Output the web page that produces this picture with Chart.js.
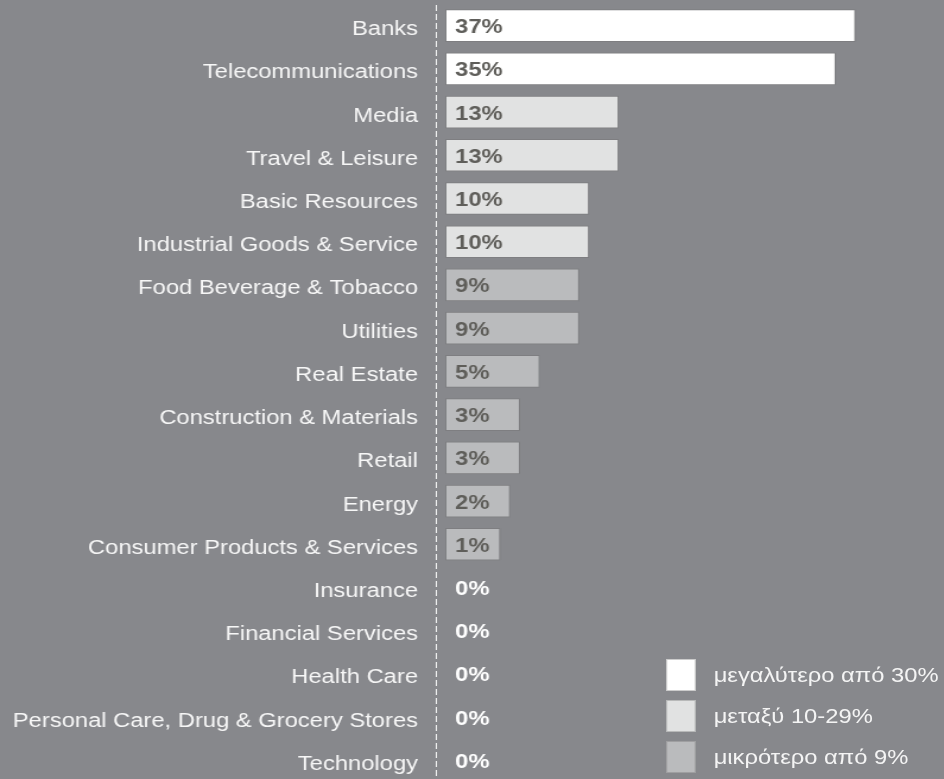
<!DOCTYPE html>
<html>
<head>
<meta charset="utf-8">
<script src="https://cdn.jsdelivr.net/npm/chart.js@4.4.1/dist/chart.umd.min.js"></script>
<style>
  html, body { margin: 0; padding: 0; overflow: hidden; background: #87888c; }
  /* the whole chart is drawn narrow and stretched sideways */
  #wrap {
    position: relative;
    width: 795px;
    height: 782px;
    transform: scaleX(1.1874);
    transform-origin: 0 0;
  }
  .legend {
    position: absolute;
    left: 561px;
    top: 659px;
    font: 20px "Liberation Sans", Arial, sans-serif;
    color: #f4f4f4;
  }
  .legend div { display: flex; align-items: center; height: 32px; margin-bottom: 9px; }
  .legend span.box {
    display: inline-block;
    width: 25px;
    height: 32px;
    margin-right: 15px;
    box-sizing: border-box;
    border: 1px solid rgba(110, 110, 110, 0.35);
  }
</style>
</head>
<body>
<div id="wrap">
  <canvas id="sectorChart"></canvas>
  <div class="legend" id="legend"></div>
</div>
<script>
const sectors = [
    'Banks', 'Telecommunications', 'Media', 'Travel & Leisure', 'Basic Resources',
    'Industrial Goods & Service', 'Food Beverage & Tobacco', 'Utilities', 'Real Estate',
    'Construction & Materials', 'Retail', 'Energy', 'Consumer Products & Services',
    'Insurance', 'Financial Services', 'Health Care',
    'Personal Care, Drug & Grocery Stores', 'Technology'
];
const shares = [37, 35, 13, 13, 10, 10, 9, 9, 5, 3, 3, 2, 1, 0, 0, 0, 0, 0];

const groupNames = ['μεγαλύτερο από 30%', 'μεταξύ 10-29%', 'μικρότερο από 9%'];
const groupColors = ['#ffffff', '#e1e2e2', '#babbbd'];

// bars start a little to the right of the dashed axis
const axisMin = -5.5;
const barBase = -4.5;
const axisMax = 46;

function groupOf(v) {
    if (v >= 30) return 0;
    if (v >= 10) return 1;
    return 2;
}

const barColors = shares.map(v => v > 0 ? groupColors[groupOf(v)] : 'rgba(0,0,0,0)');
const barBorders = shares.map(v => v > 0 ? 'rgba(110,110,110,0.35)' : 'rgba(0,0,0,0)');

// dashed line along the category axis
const dashedAxis = {
    id: 'dashedAxis',
    beforeDatasetsDraw(chart) {
        const {ctx, chartArea} = chart;
        const x = Math.round(chartArea.left) + 0.5;
        ctx.save();
        ctx.strokeStyle = '#f4f4f4';
        ctx.lineWidth = 1;
        ctx.setLineDash([6, 3]);
        ctx.beginPath();
        ctx.moveTo(x, chartArea.top + 1);
        ctx.lineTo(x, chartArea.bottom);
        ctx.stroke();
        ctx.restore();
    }
};

// percentage written at the start of every bar
const valueLabels = {
    id: 'valueLabels',
    afterDatasetsDraw(chart) {
        const ctx = chart.ctx;
        const meta = chart.getDatasetMeta(0);
        const x = chart.scales.x.getPixelForValue(barBase) + 8;
        ctx.save();
        ctx.font = 'bold 20px "Liberation Sans", Arial, sans-serif';
        ctx.textAlign = 'left';
        ctx.textBaseline = 'middle';
        meta.data.forEach((bar, i) => {
            ctx.fillStyle = shares[i] > 0 ? '#5f5e5a' : '#ffffff';
            ctx.fillText(shares[i] + '%', x, bar.y + 2);
        });
        ctx.restore();
    }
};

const ctx = document.getElementById('sectorChart').getContext('2d');
new Chart(ctx, {
    type: 'bar',
    data: {
        labels: sectors,
        datasets: [{
            data: shares,
            base: barBase,
            backgroundColor: barColors,
            borderColor: barBorders,
            borderWidth: 1,
            borderSkipped: false,
            barThickness: 32
        }]
    },
    options: {
        indexAxis: 'y',
        responsive: true,
        maintainAspectRatio: false,
        animation: false,
        layout: { padding: { top: 4, right: 0, bottom: 0, left: 0 } },
        plugins: {
            legend: { display: false },
            tooltip: { enabled: false }
        },
        scales: {
            x: {
                display: false,
                min: axisMin,
                max: axisMax
            },
            y: {
                grid: { display: false, drawTicks: false },
                border: { display: false },
                ticks: {
                    color: '#f7f7f7',
                    padding: 15,
                    labelOffset: 4,
                    autoSkip: false,
                    font: { family: '"Liberation Sans", Arial, sans-serif', size: 20 }
                },
                afterFit(scale) {
                    scale.width = 367;
                    scale.paddingTop = 0;
                    scale.paddingBottom = 0;
                }
            }
        }
    },
    plugins: [dashedAxis, valueLabels]
});

// colour key in the lower right
const legend = document.getElementById('legend');
groupNames.forEach((name, i) => {
    const row = document.createElement('div');
    const box = document.createElement('span');
    box.className = 'box';
    box.style.background = groupColors[i];
    row.appendChild(box);
    row.appendChild(document.createTextNode(name));
    legend.appendChild(row);
});
</script>
</body>
</html>
